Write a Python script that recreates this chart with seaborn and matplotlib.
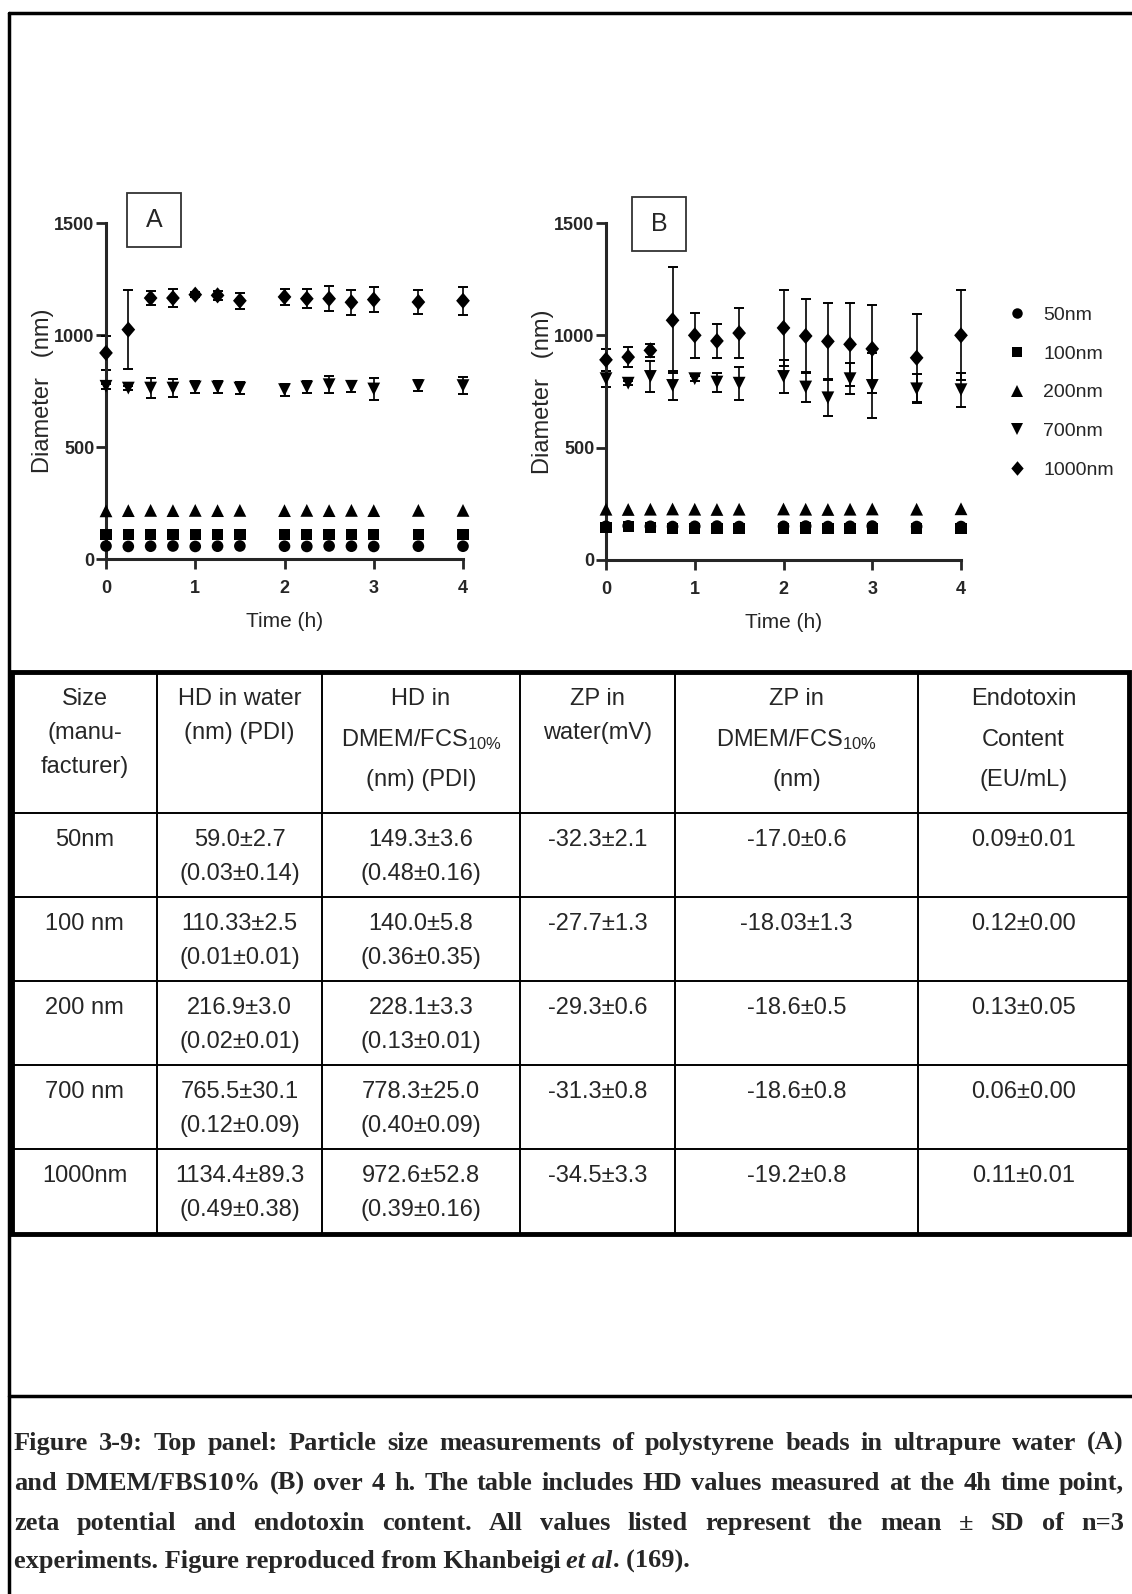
import numpy as np
import pandas as pd
import seaborn as sns
import matplotlib.pyplot as plt
from matplotlib.patches import Rectangle

# time points (h)
time_h = [0, 0.25, 0.5, 0.75, 1, 1.25, 1.5, 2, 2.25, 2.5, 2.75, 3, 3.5, 4]
sizes = ['50nm', '100nm', '200nm', '700nm', '1000nm']
diamond = [(0, 1), (0.85, 0), (0, -1), (-0.85, 0)]
shapes = {'50nm': 'o', '100nm': 's', '200nm': '^', '700nm': 'v', '1000nm': diamond}
marker_area = {'50nm': 70, '100nm': 66, '200nm': 85, '700nm': 85, '1000nm': 135}

# panel A: ultrapure water, mean diameter (nm) and SD
a_50 = [58, 56, 57, 58, 56, 57, 58, 57, 56, 58, 57, 56, 57, 57]
a_100 = [110, 108, 109, 108, 110, 109, 108, 109, 108, 110, 108, 109, 108, 108]
a_200 = [215, 216, 217, 216, 217, 216, 217, 216, 217, 216, 217, 216, 217, 217]
a_700 = [771, 763, 763, 763, 768, 768, 763, 756, 768, 778, 771, 759, 774, 774]
a_1000 = [920, 1024, 1165, 1165, 1180, 1177, 1153, 1170, 1162, 1162, 1146, 1158, 1147, 1153]
a_700_sd = [10, 8, 45, 40, 28, 25, 28, 27, 28, 38, 25, 47, 25, 37]
a_1000_sd = [75, 176, 33, 40, 10, 20, 35, 35, 42, 56, 57, 57, 55, 63]

# panel B: DMEM/FBS10%
b_50 = [150, 152, 150, 149, 150, 151, 149, 150, 151, 149, 150, 151, 149, 149]
b_100 = [146, 149, 145, 140, 140, 141, 140, 140, 143, 140, 141, 140, 139, 140]
b_200 = [226, 225, 226, 227, 226, 225, 226, 227, 226, 225, 226, 227, 226, 228]
b_700 = [807, 787, 817, 777, 807, 792, 787, 817, 770, 722, 807, 777, 762, 758]
b_1000 = [891, 903, 933, 1067, 1000, 975, 1010, 1033, 997, 973, 960, 940, 900, 1000]
b_700_sd = [35, 10, 68, 64, 10, 42, 74, 72, 65, 82, 69, 143, 65, 75]
b_1000_sd = [50, 45, 28, 235, 100, 77, 111, 170, 165, 173, 186, 196, 196, 200]

# table
tbl_header = [['Size', '(manu-', 'facturer)'],
              ['HD in water', '(nm) (PDI)'],
              ['HD in', r'$\mathregular{DMEM/FCS_{10\%}}$', '(nm) (PDI)'],
              ['ZP in', 'water(mV)'],
              ['ZP in', r'$\mathregular{DMEM/FCS_{10\%}}$', '(nm)'],
              ['Endotoxin', 'Content', '(EU/mL)']]
tbl_size = ['50nm', '100 nm', '200 nm', '700 nm', '1000nm']
tbl_hd_water = ['59.0±2.7', '110.33±2.5', '216.9±3.0', '765.5±30.1', '1134.4±89.3']
tbl_pdi_water = ['(0.03±0.14)', '(0.01±0.01)', '(0.02±0.01)', '(0.12±0.09)', '(0.49±0.38)']
tbl_hd_dmem = ['149.3±3.6', '140.0±5.8', '228.1±3.3', '778.3±25.0', '972.6±52.8']
tbl_pdi_dmem = ['(0.48±0.16)', '(0.36±0.35)', '(0.13±0.01)', '(0.40±0.09)', '(0.39±0.16)']
tbl_zp_water = ['-32.3±2.1', '-27.7±1.3', '-29.3±0.6', '-31.3±0.8', '-34.5±3.3']
tbl_zp_dmem = ['-17.0±0.6', '-18.03±1.3', '-18.6±0.5', '-18.6±0.8', '-19.2±0.8']
tbl_endo = ['0.09±0.01', '0.12±0.00', '0.13±0.05', '0.06±0.00', '0.11±0.01']

caption_lines = [
    'Figure 3-9: Top panel: Particle size measurements of polystyrene beads in ultrapure water (A)',
    'and DMEM/FBS10% (B) over 4 h. The table includes HD values measured at the 4h time point,',
    'zeta potential and endotoxin content. All values listed represent the mean ± SD of n=3',
]

sns.set_style('ticks')
plt.rcParams['font.family'] = ['Liberation Sans', 'DejaVu Sans']
plt.rcParams['mathtext.fontset'] = 'custom'
plt.rcParams['mathtext.rm'] = 'Liberation Sans'

W, H = 1132, 1594
fig = plt.figure(figsize=(W / 100, H / 100), dpi=100)


def make_df(series):
    rows = []
    for name, vals in zip(sizes, series):
        for t, v in zip(time_h, vals):
            rows.append({'time': t, 'diam': v, 'size': name})
    return pd.DataFrame(rows)


def panel(rect, series, sd_pairs, legend):
    ax = fig.add_axes(rect)
    ax.patch.set_alpha(0)
    for vals, sd in sd_pairs:
        ax.errorbar(time_h, vals, yerr=sd, fmt='none', ecolor='black',
                    elinewidth=1.2, capsize=3.8, capthick=1.4, clip_on=False, zorder=2)
    df = make_df(series)
    sns.scatterplot(data=df, x='time', y='diam', hue='size', style='size', size='size',
                    hue_order=sizes, style_order=sizes, size_order=sizes,
                    markers=shapes, sizes=marker_area,
                    palette={s: 'black' for s in sizes}, linewidth=0,
                    edgecolor='black', legend=legend, ax=ax, clip_on=False, zorder=3)
    ax.set_xlim(0, 4)
    ax.set_ylim(0, 1500)
    ax.set_xticks([0, 1, 2, 3, 4])
    ax.set_yticks([0, 500, 1000, 1500])
    sns.despine(ax=ax)
    for sp in ['left', 'bottom']:
        ax.spines[sp].set_linewidth(2.2)
    ax.tick_params(width=2, length=7, labelsize=13)
    ax.tick_params(axis='x', pad=8)
    ax.tick_params(axis='y', pad=1.5)
    for lab in ax.get_xticklabels() + ax.get_yticklabels():
        lab.set_fontweight('bold')
    ax.set_xlabel('Time (h)', fontsize=15, labelpad=11)
    ax.set_ylabel('Diameter   (nm)', fontsize=17, labelpad=0)
    return ax


ax_a = panel([106 / W, 1 - 559 / H, 357 / W, 336 / H],
             [a_50, a_100, a_200, a_700, a_1000],
             [(a_700, a_700_sd), (a_1000, a_1000_sd)], False)
ax_b = panel([606 / W, 1 - 560 / H, 355 / W, 337 / H],
             [b_50, b_100, b_200, b_700, b_1000],
             [(b_700, b_700_sd), (b_1000, b_1000_sd)], True)
sns.move_legend(ax_b, 'upper left', bbox_to_anchor=(988 / W, 1 - 289 / H),
                bbox_transform=fig.transFigure, frameon=False, title=None,
                fontsize=14, labelspacing=1.08, handlelength=1.2, handletextpad=0.75,
                markerscale=0.9)

# overlay in pixel coordinates for the page frame, panel boxes, table and caption
ov = fig.add_axes([0, 0, 1, 1], zorder=10)
ov.set_xlim(0, W)
ov.set_ylim(H, 0)
ov.axis('off')
ov.patch.set_alpha(0)

# page frame
ov.plot([9, W], [13, 13], color='black', lw=2.5)
ov.plot([9, 9], [13, H], color='black', lw=2.5)
ov.plot([9, W], [1396, 1396], color='black', lw=2.5)

# panel letters
for (x0, y0), letter in [((127, 193), 'A'), ((632, 197), 'B')]:
    ov.add_patch(Rectangle((x0, y0), 54, 54, fill=False, lw=1.3, ec='#333333'))
    ov.text(x0 + 27, y0 + 27, letter, ha='center', va='center', fontsize=18)

# table grid
col_edges = [12, 157, 322, 520, 675, 918, 1129]
row_edges = [672, 813, 897, 981, 1065, 1149, 1234]
for y in row_edges[1:-1]:
    ov.plot([col_edges[0], col_edges[-1]], [y, y], color='black', lw=1.4)
for x in col_edges[1:-1]:
    ov.plot([x, x], [row_edges[0], row_edges[-1]], color='black', lw=1.4)
ov.add_patch(Rectangle((col_edges[0], row_edges[0]), col_edges[-1] - col_edges[0],
                       row_edges[-1] - row_edges[0], fill=False, lw=3.5, ec='black'))

centers = [(a + b) / 2 for a, b in zip(col_edges[:-1], col_edges[1:])]
tfs = 17
for cx, lines in zip(centers, tbl_header):
    if len(lines) == 3 and lines[0] != 'Size':
        ys = [699, 740, 780]
    else:
        ys = [699, 733, 767]
    for yy, txt in zip(ys, lines):
        ov.text(cx, yy, txt, ha='center', va='center', fontsize=tfs)

columns = [(tbl_size, None), (tbl_hd_water, tbl_pdi_water), (tbl_hd_dmem, tbl_pdi_dmem),
           (tbl_zp_water, None), (tbl_zp_dmem, None), (tbl_endo, None)]
for cx, (first, second) in zip(centers, columns):
    for i, top in enumerate(row_edges[1:-1]):
        ov.text(cx, top + 27, first[i], ha='center', va='center', fontsize=tfs)
        if second is not None:
            ov.text(cx, top + 61, second[i], ha='center', va='center', fontsize=tfs)

# caption, justified like the page
cap_kw = dict(family='Liberation Serif', fontweight='bold', fontsize=19, va='baseline')
rend = fig.canvas.get_renderer()
x_left, x_right = 14, 1124
for yy, line in zip([1450, 1490, 1530], caption_lines):
    words = line.split(' ')
    arts = [ov.text(0, yy, w, **cap_kw) for w in words]
    widths = [a.get_window_extent(rend).width for a in arts]
    gap = (x_right - x_left - sum(widths)) / (len(words) - 1)
    x = x_left
    for a, w in zip(arts, widths):
        a.set_x(x)
        x += w + gap

t1 = ov.text(x_left, 1568, 'experiments. Figure reproduced from Khanbeigi', **cap_kw)
w1 = t1.get_window_extent(rend).width
t2 = ov.text(x_left + w1 + 5, 1568, 'et al', style='italic', **cap_kw)
w2 = t2.get_window_extent(rend).width
ov.text(x_left + w1 + 5 + w2 + 1, 1568, '. (169).', **cap_kw)

fig.savefig('out.png', dpi=100)
